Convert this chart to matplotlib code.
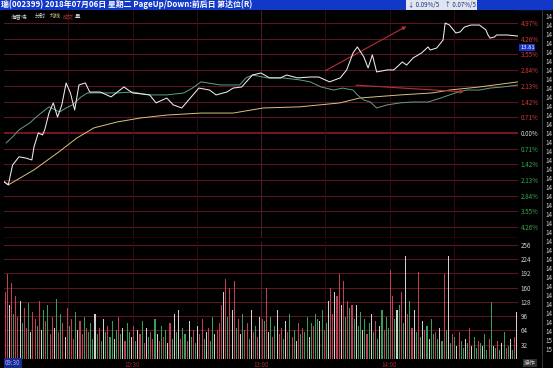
import numpy as np
import matplotlib
matplotlib.use('Agg')
from matplotlib import pyplot as plt

plt.rcParams['font.family'] = ['Noto Sans CJK SC', 'DejaVu Sans']

W, H = 553, 368

# minute index (0 = 09:30, 120 = 13:00, 240 = 15:00) and % change
price_min = [0, 2, 4, 7, 10, 13, 14, 16, 18, 19, 21, 23, 25, 27, 29, 31, 33, 35, 38, 40,
             45, 50, 56, 60, 68, 71, 76, 79, 83, 87, 91, 96, 99, 104, 107, 111, 116, 120,
             124, 129, 132, 137, 143, 147, 152, 157, 160, 163, 165, 168, 170, 172, 174,
             179, 182, 186, 188, 191, 195, 198, 199, 202, 205, 206, 208, 211, 213, 215,
             218, 222, 225, 226, 227, 229, 230, 235, 240]
price_pct = [-2.20, -2.35, -1.45, -1.08, -1.13, -1.22, -0.63, 0.00, -0.09, 0.14, 0.90, 1.36,
             0.72, 1.27, 2.26, 1.81, 1.04, 2.17, 2.26, 1.85, 1.85, 1.63, 2.08, 1.81, 1.72,
             1.36, 1.58, 1.27, 1.13, 1.58, 2.03, 1.94, 1.72, 1.85, 2.03, 2.08, 2.62, 2.71,
             2.49, 2.49, 2.62, 2.49, 2.53, 2.53, 2.31, 2.49, 2.85, 3.62, 3.89, 3.44, 2.94,
             3.53, 2.76, 2.85, 2.85, 3.21, 3.07, 3.39, 3.62, 3.89, 3.75, 3.84, 4.20, 4.97,
             4.88, 4.52, 4.57, 4.79, 4.88, 4.88, 4.66, 4.43, 4.29, 4.34, 4.43, 4.43, 4.38]

index_min = [1, 4, 7, 12, 15, 18, 21, 26, 29, 32, 36, 39, 45, 53, 60, 68, 76, 84, 88, 92,
             101, 110, 113, 116, 123, 130, 138, 143, 148, 154, 158, 163, 165, 168, 171,
             174, 179, 185, 191, 198, 204, 208, 212, 216, 222, 227, 233, 240]
index_pct = [-0.45, -0.18, 0.14, 0.45, 0.72, 0.95, 1.18, 0.95, 1.13, 1.27, 1.63, 1.81,
             1.81, 1.81, 1.85, 1.72, 1.72, 1.81, 2.03, 2.31, 2.17, 2.17, 2.49, 2.62, 2.49,
             2.49, 2.40, 2.31, 2.08, 1.94, 2.03, 1.94, 1.72, 1.49, 1.40, 1.13, 1.27, 1.36,
             1.40, 1.40, 1.58, 1.72, 1.85, 1.94, 1.94, 2.03, 2.08, 2.17]

avg_min = [0, 2, 14, 25, 34, 42, 53, 64, 76, 92, 107, 121, 138, 157, 166, 185, 200, 208, 222, 240]
avg_pct = [-2.20, -2.35, -1.67, -0.90, -0.23, 0.23, 0.50, 0.68, 0.81, 0.90, 0.90, 1.13,
           1.18, 1.36, 1.58, 1.72, 1.81, 1.94, 2.08, 2.31]

pct_ticks = [4.97, 4.26, 3.55, 2.84, 2.13, 1.42, 0.71, 0.00, -0.71, -1.42, -2.13, -2.84, -3.55, -4.26]
pct_labels = ['4.97%', '4.26%', '3.55%', '2.84%', '2.13%', '1.42%', '0.71%', '0.00%',
              '0.71%', '1.42%', '2.13%', '2.84%', '3.55%', '4.26%']

volume = [150, 190, 120, 170, 100, 140, 95, 130, 80, 115, 70, 125, 60, 105, 90, 75, 130, 65, 110, 85,
          120, 55, 95, 70, 135, 60, 100, 80, 50, 115, 75, 90, 45, 105, 65, 85, 55, 95, 70, 60,
          80, 45, 100, 55, 70, 40, 90, 60, 75, 50, 85, 45, 65, 95, 55, 70, 40, 80, 60, 50,
          75, 40, 65, 55, 85, 35, 70, 50, 60, 45, 90, 55, 40, 75, 50, 65, 35, 80, 45, 100,
          60, 110, 45, 70, 55, 40, 85, 50, 65, 35, 75, 55, 90, 45, 60, 70, 40, 95, 55, 65,
          80, 120, 150, 180, 95, 160, 110, 175, 70, 90, 55, 100, 65, 80, 45, 110, 60, 75, 50, 95,
          90, 85, 160, 60, 95, 50, 75, 110, 55, 70, 45, 85, 60, 100, 50, 65, 40, 80, 55, 70,
          60, 95, 50, 80, 75, 100, 90, 85, 110, 65, 80, 130, 160, 100, 150, 140, 190, 120, 175, 95,
          130, 115, 120, 90, 120, 75, 105, 65, 90, 55, 80, 100, 60, 85, 45, 75, 110, 65, 95, 70,
          200, 140, 90, 110, 120, 150, 80, 230, 100, 130, 70, 110, 60, 195, 50, 85, 65, 75, 45, 90,
          55, 60, 45, 70, 40, 190, 65, 230, 35, 55, 50, 30, 60, 40, 25, 45, 35, 70, 30, 50,
          25, 40, 35, 30, 55, 20, 45, 128, 30, 25, 40, 20, 35, 60, 25, 30, 45, 20, 50, 105]
vol_colors = ("rrwrgrrwgrrgwrrgrwgr" "grrwgrgrwrgrrgwrrgrg" "ggwgrgwgrggwgrgwrggw"
              "rgwrgrwgrrgwrgrgwrgw" "gwrggrwgrgwrrgwrggwr" "rrwrgrwrgrwgrrgwrgrw"
              "rgrwgrgwrrgwrgrgwrgr" "ggwgrggwgrgwrrwrrwrg" "rgrgwggwgrgwgrgwgrgg"
              "rrgwgrgwrgrwgrgwrgwg" "grgwgrgwgrgwrggwgrwg" "grgwggrgwgrgwgrgwgrw")
vol_ticks = [256, 224, 192, 160, 128, 96, 64, 32]
vol_labels = ['256', '224', '192', '160', '128', '96', '64', '32']

time_ticks = [60, 120, 180]
time_labels = ['10:30', '13:00', '14:00']

# arrows drawn on the chart: (start minute, start %, end minute, end %)
arrows = [(149, 2.76, 189, 4.88), (163, 2.17, 216, 1.85)]

last_price = '13.81'

cmap = {'r': '#c04058', 'g': '#3a9e58', 'w': '#cfcfcf'}
grid_red = '#621622'
vgrid = '#3a0c14'

fig = plt.figure(figsize=(W / 100, H / 100), dpi=100, facecolor='black')


def px_axes(x0, y0, x1, y1):
    a = fig.add_axes([x0 / W, 1 - y1 / H, (x1 - x0) / W, (y1 - y0) / H])
    a.set_facecolor('black')
    for s in a.spines.values():
        s.set_visible(False)
    return a


def ftext(x, y, s, **kw):
    return fig.text(x / W, 1 - y / H, s, **kw)


# ---- price panel
ax = px_axes(4, 10, 518, 238)
ax.set_xlim(0, 240)
ax.set_ylim(-4.75, 5.56)
for t in pct_ticks:
    if t == 0:
        ax.axhline(t, color='#9a1c28', lw=1.1, zorder=1)
    else:
        ax.axhline(t, color=grid_red, lw=0.7, zorder=1)
for m in range(30, 240, 30):
    ax.axvline(m, color=vgrid if m != 120 else '#5a2030', lw=0.6, zorder=1)
ax.plot(avg_min, avg_pct, color='#d9c27a', lw=0.7, zorder=3)
ax.plot(index_min, index_pct, color='#62a085', lw=0.7, zorder=3)
ax.plot(price_min, price_pct, color='#ececec', lw=0.75, zorder=4)
for x0, y0, x1, y1 in arrows:
    ax.annotate('', xy=(x1, y1), xytext=(x0, y0),
                arrowprops=dict(arrowstyle='-|>', color='#b8303a', lw=0.8, mutation_scale=5))
ax.yaxis.tick_right()
ax.set_yticks(pct_ticks, pct_labels, fontsize=4.5)
for lbl, t in zip(ax.get_yticklabels(), pct_ticks):
    lbl.set_color('#d83838' if t > 0 else ('#e0e0e0' if t == 0 else '#36a84c'))
ax.tick_params(axis='y', length=0, pad=2)
ax.set_xticks([])
ax.axhline(-4.75, color='#8a1a26', lw=1.0)

# ---- volume panel
vx = px_axes(4, 242, 518, 359)
vx.set_xlim(0, 240)
vx.set_ylim(0, 262)
for t in vol_ticks:
    vx.axhline(t, color=grid_red, lw=0.7, zorder=1)
for m in range(30, 240, 30):
    vx.axvline(m, color=vgrid if m != 120 else '#5a2030', lw=0.6, zorder=1)
mins = np.arange(len(volume)) + 0.5
vx.bar(mins, volume, width=0.5, color=[cmap[c] for c in vol_colors], zorder=2)
vx.yaxis.tick_right()
vx.set_yticks(vol_ticks, vol_labels, fontsize=4.5, color='#d0d0d0')
vx.tick_params(axis='y', length=0, pad=2)
vx.set_xticks(time_ticks, time_labels, fontsize=4.5, color='#a02830')
vx.tick_params(axis='x', length=0, pad=1.5)

# ---- title bar and header
fig.add_artist(plt.Rectangle((0, 1 - 9 / H), 1, 9 / H, transform=fig.transFigure,
                             color='#1238c8', zorder=0))
ftext(1, 4.5, '瑞(002399) 2018年07月06日 星期二 PageUp/Down:前后日 第达位(R)',
      fontsize=5.7, color='white', va='center', fontweight='bold')
ftext(408, 4.5, '↓ 0.09%/5    ↑ 0.07%/5', fontsize=4.5, color='#203070', va='center',
      bbox=dict(boxstyle='square,pad=0.25', fc='#dfe6f2', ec='none'))
ftext(11, 16, '海普瑞', fontsize=4.0, color='#d8d8d8', va='center')
ftext(35, 16, '分时', fontsize=4.0, color='#d8d8d8', va='center')
ftext(50, 16, '均线', fontsize=4.0, color='#d8d070', va='center')
ftext(63, 16, '成交', fontsize=4.0, color='#b03030', va='center')
ftext(75, 16, '量', fontsize=4.0, color='#d8d8d8', va='center')

ftext(520, 47.5, last_price, fontsize=4.2, color='white', va='center',
      bbox=dict(boxstyle='square,pad=0.1', fc='#1a34c0', ec='none'))

# bottom time bar
ftext(5, 363, '09:30', fontsize=4.5, color='#a0b0ff', va='center',
      bbox=dict(boxstyle='square,pad=0.2', fc='#1a2a90', ec='none'))
ftext(524, 363, '操作', fontsize=4.2, color='#d0d0d0', va='center',
      bbox=dict(boxstyle='square,pad=0.2', fc='#303030', ec='none'))

# right side column
fig.add_artist(plt.Line2D([542 / W, 542 / W], [0, 1 - 10 / H], transform=fig.transFigure,
                          color='#404040', lw=0.6))
for y in range(17, 352, 9):
    ftext(545, y, '14' if y < 335 else '15', fontsize=4.5, color='#d0d0d0', va='center')

fig.savefig('out.png', dpi=100, facecolor='black')
